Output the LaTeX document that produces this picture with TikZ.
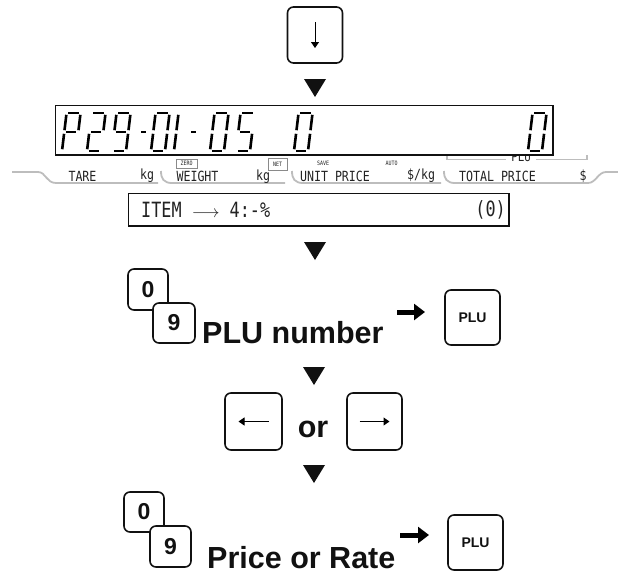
\documentclass[tikz,border=0pt]{standalone}
\usepackage{fontspec}
\setmainfont{Liberation Sans}
\newfontfamily\lcdfont[FakeStretch=0.83]{DejaVu Sans Mono}
\newfontfamily\itemfont[FakeStretch=0.8]{DejaVu Sans Mono}
\usetikzlibrary{arrows.meta}
\definecolor{KeyInk}{HTML}{111111}
\definecolor{LabelInk}{HTML}{222222}
\definecolor{BandGray}{HTML}{BDBDBD}
\definecolor{BandEdge}{HTML}{8A8A8A}
\tikzset{
  every node/.style={font=\bfseries, text=KeyInk},
  keybox/.style={draw=KeyInk, line width=1.6pt, rounded corners=6pt, fill=white, inner sep=0pt},
  keyarrow/.style={-{Triangle[length=6pt,width=8pt]}, line width=1pt},
  keydigit/.style={font=\bfseries\fontsize{23}{23}\selectfont},
  keyword/.style={font=\bfseries\fontsize{14}{14}\selectfont},
  flowtext/.style={font=\bfseries\fontsize{30.5}{32}\selectfont, inner sep=0pt},
  heavyarrow/.style={-{Triangle[length=11pt,width=16pt]}, line width=5pt},
  flowmark/.style={fill=KeyInk},
  lcdframe/.style={draw=KeyInk, line width=1pt, fill=white},
  lcdseg/.style={line width=2.6pt, shorten <=1.8pt, shorten >=1.8pt},
  band/.style={draw=BandGray, line width=1.8pt},
  lcdlabel/.style={font=\lcdfont\fontsize{14}{14}\selectfont, text=LabelInk, inner sep=0pt},
  tinylabel/.style={font=\lcdfont\fontsize{6}{6}\selectfont, text=LabelInk, inner sep=0.8pt},
}
% seven segment character: [width]{left x}{segments}
\newcommand\lcdchar[3][14]{%
  \begin{scope}[shift={(#2,151)}, xslant=0.12]
    \coordinate (a1) at (0,-38);  \coordinate (a2) at (#1,-38);
    \coordinate (b1) at (#1,-38); \coordinate (b2) at (#1,-19);
    \coordinate (c1) at (#1,-19); \coordinate (c2) at (#1,0);
    \coordinate (d1) at (0,0);    \coordinate (d2) at (#1,0);
    \coordinate (e1) at (0,-19);  \coordinate (e2) at (0,0);
    \coordinate (f1) at (0,-38);  \coordinate (f2) at (0,-19);
    \coordinate (g1) at (0,-19);  \coordinate (g2) at (#1,-19);
    \foreach \s in {#3} \draw[lcdseg] (\s1) -- (\s2);
  \end{scope}}
\newcommand\flowdown[2]{\fill[flowmark] (#1-11,#2) -- (#1+11,#2) -- (#1,#2+18) -- cycle;}

\begin{document}
\begin{tikzpicture}[x=1pt,y=-1pt]
  \useasboundingbox (0,0) rectangle (618,574);

  % Step 1: down key
  \node[keybox, minimum width=55pt, minimum height=56pt] (downkey) at (315,35) {};
  \draw[keyarrow] ([yshift=13pt]downkey.center) -- ([yshift=-13pt]downkey.center);
  \flowdown{315}{79}

  % label strip under the display
  \draw[band] (12,172) -- (38,172) .. controls (46,172) and (46,183) .. (56,183) -- (158,183);
  \draw[band] (161,171) .. controls (161,179) and (164,183) .. (172,183) -- (285,183);
  \draw[band] (292,171) .. controls (292,179) and (295,183) .. (303,183) -- (441,183);
  \draw[band] (444,171) .. controls (444,179) and (447,183) .. (455,183) -- (588,183)
    .. controls (596,183) and (598,172) .. (606,172) -- (618,172);
  \node[lcdlabel] (tare) at (82.5,176) {TARE};
  \node[lcdlabel] (tarekg) at (147,176) {kg};
  \node[lcdlabel] (weight) at (197.5,176) {WEIGHT};
  \node[lcdlabel] (weightkg) at (263,177) {kg};
  \node[lcdlabel] (unitprice) at (335,176) {UNIT PRICE};
  \node[lcdlabel] (perkg) at (421,176) {\$/kg};
  \node[lcdlabel] (totalprice) at (497.5,176) {TOTAL PRICE};
  \node[lcdlabel] (dollar) at (583,176) {\$};
  \node[tinylabel, draw=BandEdge, minimum width=21pt, minimum height=9pt] (zero) at (186.5,163.5) {ZERO};
  \node[tinylabel, draw=BandEdge, minimum width=19pt, minimum height=12pt] (net) at (277.5,164) {NET};
  \node[tinylabel] (save) at (323,163) {SAVE};
  \node[tinylabel] (auto) at (391.5,163) {AUTO};
  \node[lcdlabel, font=\lcdfont\fontsize{13}{13}\selectfont] (plumark) at (521,157) {PLU};
  \draw[band, line width=1.4pt] (447,155) -- (447,159.5) -- (506,159.5);
  \draw[band, line width=1.4pt] (536,159.5) -- (587,159.5) -- (587,155);

  % display
  \draw[lcdframe] (55,105) rectangle (553,155);
  \draw[KeyInk, line width=2pt] (553,105) -- (553,155) -- (55,155);
  \lcdchar{62}{a,b,f,g,e}
  \lcdchar{87}{a,b,g,e,d}
  \lcdchar{112}{a,b,c,d,f,g}
  \lcdchar[9]{137}{g}
  \lcdchar{151}{a,b,c,d,e,f}
  \lcdchar[0]{174}{b,c}
  \lcdchar[9]{187}{g}
  \lcdchar{210}{a,b,c,d,e,f}
  \lcdchar{236}{a,f,g,c,d}
  \lcdchar{294}{a,b,c,d,e,f}
  \lcdchar{528}{a,b,c,d,e,f}

  % item line
  \draw[lcdframe] (128,193) rectangle (509,226);
  \draw[KeyInk, line width=2pt] (509,193) -- (509,226) -- (128,226);
  \node[anchor=west, inner sep=0pt, font=\itemfont\fontsize{21}{21}\selectfont, text=LabelInk]
    (itemtext) at (141,210) {ITEM {\fontsize{18}{18}\selectfont$\longrightarrow$} 4:-\%};
  \node[anchor=east, inner sep=0pt, font=\itemfont\fontsize{21}{21}\selectfont, text=LabelInk]
    (itemcount) at (506,210) {(0)};
  \flowdown{315}{242}

  % Step 2: PLU number
  \node[keybox, keydigit, minimum width=40pt, minimum height=41pt] (zerokeyA) at (148,289.5) {0};
  \node[keybox, keydigit, minimum width=42pt, minimum height=40pt] (ninekeyA) at (174,323) {9};
  \node[flowtext, anchor=base west] (plunumber) at (202,343) {PLU number};
  \coordinate (arrAs) at (397,312);
  \coordinate (arrAe) at (425,312);
  \draw[heavyarrow] (arrAs) -- (arrAe);
  \node[keybox, keyword, minimum width=55pt, minimum height=55pt] (plukeyA) at (472.5,317.5) {PLU};
  \flowdown{314}{367}

  % Step 3: cursor keys
  \node[keybox, minimum width=57pt, minimum height=57pt] (leftkey) at (253.5,421.5) {};
  \draw[keyarrow] ([xshift=15pt]leftkey.center) -- ([xshift=-15pt]leftkey.center);
  \node[flowtext, anchor=base] (ortext) at (313,437) {or};
  \node[keybox, minimum width=55pt, minimum height=57pt] (rightkey) at (374.5,421.5) {};
  \draw[keyarrow] ([xshift=-15pt]rightkey.center) -- ([xshift=15pt]rightkey.center);
  \flowdown{314}{465}

  % Step 4: price or rate
  \node[keybox, keydigit, minimum width=40pt, minimum height=40pt] (zerokeyB) at (144,512) {0};
  \node[keybox, keydigit, minimum width=41pt, minimum height=41pt] (ninekeyB) at (170.5,546.5) {9};
  \node[flowtext, anchor=base west] (pricerate) at (207,568) {Price or Rate};
  \coordinate (arrBs) at (400,535);
  \coordinate (arrBe) at (429,535);
  \draw[heavyarrow] (arrBs) -- (arrBe);
  \node[keybox, keyword, minimum width=55pt, minimum height=55pt] (plukeyB) at (475.5,542.5) {PLU};
\end{tikzpicture}
\end{document}
